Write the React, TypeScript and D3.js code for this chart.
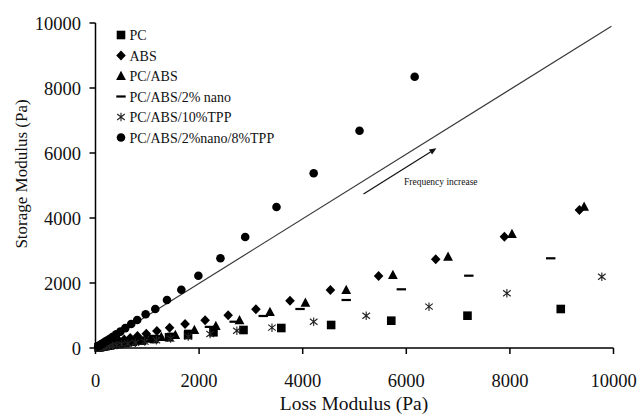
import React from "react";
import * as d3 from "d3";

const pcX = [8982, 7181, 5710, 4549, 3587, 2857, 2277, 1787, 1420, 1130, 900, 715, 570, 453, 360, 287, 228, 181, 144, 115, 91, 73, 58];
const pcY = [1200, 994, 840, 708, 615, 554, 483, 400, 330, 275, 228, 190, 158, 131, 108, 90, 74, 61, 50, 41, 34, 28, 23];

const absX = [9342, 7894, 6568, 5465, 4535, 3755, 3097, 2561, 2116, 1729, 1430, 1185, 980, 810, 670, 555, 460, 380, 315, 260, 215, 178, 147, 122, 101, 84, 70];
const absY = [4246, 3425, 2729, 2215, 1785, 1455, 1191, 1006, 852, 738, 620, 525, 440, 370, 310, 260, 215, 180, 150, 125, 103, 86, 71, 59, 49, 40, 33];

const pcAbsX = [9433, 8040, 6806, 5741, 4840, 4052, 3368, 2780, 2323, 1909, 1541, 1270, 1050, 865, 715, 590, 487, 402, 332, 274, 226, 187, 154, 127, 105, 87, 72];
const pcAbsY = [4348, 3508, 2809, 2246, 1785, 1394, 1108, 852, 677, 554, 400, 340, 285, 240, 200, 165, 137, 113, 93, 77, 63, 52, 43, 35, 29, 24, 20];

const nanoX = [8788, 7207, 5904, 4840, 3949, 3238, 2677, 2200, 1800, 1475, 1210, 990, 812, 665, 545, 447, 366, 300, 246, 202, 165, 135, 111, 91, 75, 61];
const nanoY = [2760, 2225, 1806, 1477, 1200, 985, 809, 650, 530, 440, 365, 300, 250, 207, 172, 142, 118, 98, 81, 67, 56, 46, 38, 32, 26, 22];

const tppX = [9775, 7942, 6438, 5226, 4212, 3407, 2729, 2213, 1790, 1450, 1175, 950, 770, 625, 505, 410, 332, 269, 218, 176, 143, 116, 94, 76, 62];
const tppY = [2194, 1683, 1271, 994, 809, 625, 532, 430, 350, 290, 240, 198, 163, 134, 110, 90, 74, 61, 50, 41, 34, 28, 23, 19, 15];

const mixX = [6162, 5097, 4212, 3494, 2890, 2412, 1986, 1657, 1380, 1154, 968, 805, 689, 575, 480, 400, 333, 278, 232, 193, 161, 134, 112, 93, 78, 65, 54];
const mixY = [8348, 6686, 5375, 4338, 3415, 2760, 2225, 1794, 1477, 1200, 1037, 862, 738, 612, 505, 418, 345, 286, 236, 196, 162, 134, 111, 92, 76, 63, 52];

const seriesNames = ["PC", "ABS", "PC/ABS", "PC/ABS/2% nano", "PC/ABS/10%TPP", "PC/ABS/2%nano/8%TPP"];
const seriesMarkers = ["square", "diamond", "triangle", "dash", "star", "circle"];

const ticks = [0, 2000, 4000, 6000, 8000, 10000];
const diagLine = [[0, 0], [9960, 9900]];
const arrowFrom = [5174, 4738];
const arrowTo = [6581, 6145];
const annotationPos = [5955, 5015];
const annotationText = "Frequency increase";
const xTitle = "Loss Modulus (Pa)";
const yTitle = "Storage Modulus (Pa)";

const FONT = "'Liberation Serif', 'Times New Roman', serif";

function Marker({ type, x, y }: { type: string; x: number; y: number }) {
  switch (type) {
    case "square":
      return <rect x={x - 4.3} y={y - 4.3} width={8.6} height={8.6} fill="#000" />;
    case "diamond":
      return <path d={`M${x},${y - 5}L${x + 4.8},${y}L${x},${y + 5}L${x - 4.8},${y}Z`} fill="#000" />;
    case "triangle":
      return <path d={`M${x},${y - 5.3}L${x + 4.9},${y + 4}L${x - 4.9},${y + 4}Z`} fill="#000" />;
    case "dash":
      return <rect x={x - 4.7} y={y - 1.1} width={9.4} height={2.2} fill="#000" />;
    case "star":
      return (
        <path
          d={`M${x},${y - 4.2}V${y + 4.2}M${x - 3.8},${y - 3}L${x + 3.8},${y + 3}M${x - 3.8},${y + 3}L${x + 3.8},${y - 3}`}
          stroke="#222"
          strokeWidth={1.1}
          fill="none"
        />
      );
    default:
      return <circle cx={x} cy={y} r={4.3} fill="#000" />;
  }
}

export default function App() {
  const width = 640;
  const height = 414;
  const x = d3.scaleLinear().domain([0, 10000]).range([95.5, 613.5]);
  const y = d3.scaleLinear().domain([0, 10000]).range([348, 23]);

  const allX = [pcX, absX, pcAbsX, nanoX, tppX, mixX];
  const allY = [pcY, absY, pcAbsY, nanoY, tppY, mixY];

  const line = d3.line<number[]>().x((d) => x(d[0])).y((d) => y(d[1]));

  const ax1 = x(arrowFrom[0]);
  const ay1 = y(arrowFrom[1]);
  const ax2 = x(arrowTo[0]);
  const ay2 = y(arrowTo[1]);
  const ang = Math.atan2(ay2 - ay1, ax2 - ax1);
  const hl = 7;
  const hw = 3;
  const bx = ax2 - hl * Math.cos(ang);
  const by = ay2 - hl * Math.sin(ang);
  const head = `M${ax2},${ay2}L${bx + hw * Math.sin(ang)},${by - hw * Math.cos(ang)}L${bx - hw * Math.sin(ang)},${by + hw * Math.cos(ang)}Z`;

  const legendX = 121;
  const legendY0 = 35;
  const legendStep = 20.5;

  return (
    <svg
      width={width}
      height={height}
      style={{ position: "absolute", left: 0, top: 0, background: "#fff" }}
      fontFamily={FONT}
    >
      <rect x={0} y={0} width={width} height={height} fill="#fff" />
      <path d={line(diagLine as number[][]) || ""} stroke="#3a3a3a" strokeWidth={1.2} fill="none" />
      <line x1={ax1} y1={ay1} x2={bx} y2={by} stroke="#111" strokeWidth={1.2} />
      <path d={head} fill="#111" />
      <text x={x(annotationPos[0])} y={y(annotationPos[1])} fontSize={9.5} fill="#111">
        {annotationText}
      </text>

      <line x1={x(0)} y1={y(0)} x2={x(10000)} y2={y(0)} stroke="#000" strokeWidth={1.5} />
      <line x1={x(0)} y1={y(0)} x2={x(0)} y2={y(10000)} stroke="#000" strokeWidth={1.5} />
      {ticks.map((t) => (
        <g key={"xt" + t}>
          <line x1={x(t)} y1={y(0)} x2={x(t)} y2={y(0) + 6} stroke="#000" strokeWidth={1.5} />
          <text x={x(t)} y={386.5} textAnchor="middle" fontSize={18.5} fill="#111">
            {t}
          </text>
        </g>
      ))}
      {ticks.map((t) => (
        <g key={"yt" + t}>
          <line x1={x(0) - 6} y1={y(t)} x2={x(0)} y2={y(t)} stroke="#000" strokeWidth={1.5} />
          <text x={81} y={y(t) + 6.5} textAnchor="end" fontSize={18.5} fill="#111">
            {t}
          </text>
        </g>
      ))}
      <text x={354} y={410} textAnchor="middle" fontSize={19.5} fill="#111">
        {xTitle}
      </text>
      <text transform={`translate(27,174) rotate(-90)`} textAnchor="middle" fontSize={17} fill="#111">
        {yTitle}
      </text>

      {allX.map((xs, si) => (
        <g key={"s" + si}>
          {xs.map((v, i) => (
            <Marker key={i} type={seriesMarkers[si]} x={x(v)} y={y(allY[si][i])} />
          ))}
        </g>
      ))}

      {seriesNames.map((name, i) => (
        <g key={"lg" + i}>
          <Marker type={seriesMarkers[i]} x={legendX} y={legendY0 + i * legendStep} />
          <text x={129.5} y={legendY0 + i * legendStep + 5} fontSize={14} fill="#111">
            {name}
          </text>
        </g>
      ))}
    </svg>
  );
}
